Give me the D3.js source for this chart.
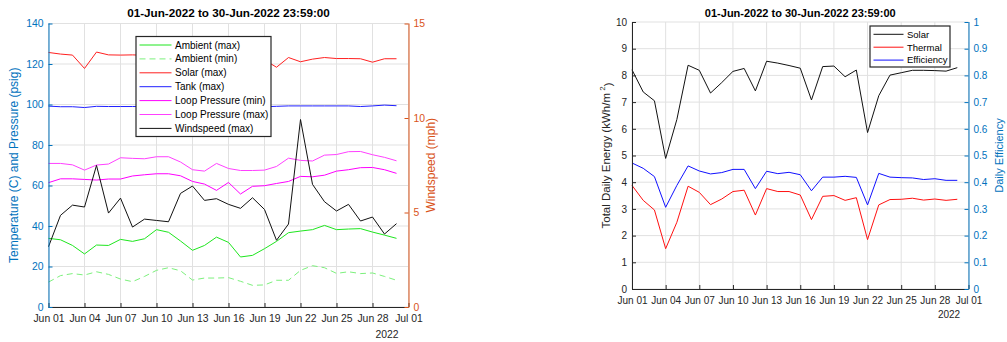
<!DOCTYPE html>
<html>
<head>
<meta charset="utf-8">
<script src="https://d3js.org/d3.v7.min.js"></script>
<style>
body { margin: 0; background: #fff; }
svg { display: block; font-family: "Liberation Sans", Arial, Helvetica, sans-serif; }
</style>
</head>
<body>
<svg width="1007" height="342"></svg>
<script>
/* SECTION: data */

var days = d3.utcDay.range(new Date(Date.UTC(2022, 5, 1)), new Date(Date.UTC(2022, 6, 1)));
var tickDates = ["2022-06-01", "2022-06-04", "2022-06-07", "2022-06-10", "2022-06-13", "2022-06-16",
                 "2022-06-19", "2022-06-22", "2022-06-25", "2022-06-28", "2022-07-01"];
var tickLabels = ["Jun 01", "Jun 04", "Jun 07", "Jun 10", "Jun 13", "Jun 16",
                  "Jun 19", "Jun 22", "Jun 25", "Jun 28", "Jul 01"];
var titleText = "01-Jun-2022 to 30-Jun-2022 23:59:00";

// left figure: temperatures and pressures (psig), windspeed (mph)
var ambientMax = [33.9, 33.2, 30.4, 26.2, 30.6, 30.4, 33.4, 32.4, 33.7, 38.2, 36.9, 32.6, 28.0, 30.4, 34.5,
                  31.9, 24.7, 25.5, 28.8, 32.4, 36.7, 37.5, 38.2, 40.3, 38.2, 38.5, 38.7, 37.0, 35.5, 33.9];
var ambientMin = [12.3, 15.5, 16.5, 15.8, 17.4, 16.1, 13.8, 12.5, 15.1, 18.1, 19.4, 17.9, 13.3, 14.3, 14.3,
                  14.5, 12.7, 10.7, 10.9, 13.2, 13.2, 18.1, 20.4, 19.4, 16.6, 17.4, 16.5, 16.8, 15.1, 13.2];
var solarMax = [125.7, 124.9, 124.4, 117.8, 125.9, 124.5, 124.4, 124.5, 124.3, 124.0, 123.6, 123.2, 123.8, 124.0, 123.5,
                123.0, 122.8, 123.2, 122.0, 118.4, 123.2, 121.1, 122.4, 123.2, 122.7, 122.7, 122.6, 120.9, 122.6, 122.6];
var tankMax = [99.2, 98.9, 98.9, 98.5, 99.1, 99.0, 99.0, 99.0, 99.0, 99.0, 99.0, 99.0, 99.0, 99.0, 99.0,
               99.0, 99.0, 98.9, 98.9, 99.1, 99.3, 99.3, 99.3, 99.3, 99.3, 99.3, 99.0, 99.3, 99.7, 99.4];
var loopMin = [61.4, 63.3, 63.3, 63.0, 62.7, 63.2, 63.2, 64.7, 65.3, 65.8, 65.8, 64.8, 62.0, 60.7, 57.6,
               61.5, 55.8, 59.6, 59.9, 61.0, 62.0, 64.5, 64.3, 65.1, 67.1, 67.8, 68.8, 68.9, 67.8, 66.0];
var loopMax = [70.9, 70.9, 70.2, 67.6, 70.1, 70.6, 73.7, 73.4, 73.2, 74.2, 74.2, 71.6, 67.8, 67.1, 70.9,
               68.4, 67.4, 67.4, 67.6, 69.4, 73.5, 72.4, 72.1, 75.0, 75.3, 76.7, 76.8, 75.2, 73.9, 72.2];
var windMax = [3.19, 4.85, 5.39, 5.29, 7.49, 4.97, 5.76, 4.23, 4.65, 4.58, 4.51, 6.01, 6.40, 5.64, 5.73,
               5.43, 5.22, 5.78, 5.16, 3.53, 4.39, 9.92, 6.49, 5.57, 5.08, 5.43, 4.55, 4.76, 3.86, 4.41];

// right figure: total daily energy (kWh/m2) and efficiency
var solarEnergy = [8.21, 7.38, 7.05, 4.89, 6.35, 8.38, 8.19, 7.34, 7.73, 8.15, 8.26, 7.42, 8.53, 8.46, 8.37,
                   8.27, 7.08, 8.33, 8.35, 7.95, 8.20, 5.86, 7.24, 8.01, 8.10, 8.19, 8.19, 8.18, 8.16, 8.29];
var thermalEnergy = [3.88, 3.32, 2.96, 1.51, 2.50, 3.85, 3.62, 3.16, 3.37, 3.65, 3.70, 2.77, 3.76, 3.65, 3.65,
                     3.52, 2.60, 3.47, 3.50, 3.32, 3.42, 1.85, 3.15, 3.35, 3.36, 3.40, 3.33, 3.37, 3.32, 3.36];
var efficiency = [0.472, 0.452, 0.421, 0.306, 0.388, 0.461, 0.442, 0.431, 0.436, 0.448, 0.448, 0.376, 0.441, 0.432, 0.437,
                  0.428, 0.368, 0.419, 0.419, 0.422, 0.418, 0.315, 0.433, 0.419, 0.417, 0.416, 0.410, 0.413, 0.407, 0.407];

var leftTicks = [0, 20, 40, 60, 80, 100, 120, 140];
var windTicks = [0, 5, 10, 15];
var energyTicks = [0, 1, 2, 3, 4, 5, 6, 7, 8, 9, 10];
var effTicks = [0, 0.1, 0.2, 0.3, 0.4, 0.5, 0.6, 0.7, 0.8, 0.9, 1];

/* SECTION: drawing */

var svg = d3.select("svg");
var parse = d3.utcParse("%Y-%m-%d");
var ink = "#262626";
var gridColor = "#e1e1e1";

function drawPanel(p) {
  var g = svg.append("g");
  var x = d3.scaleUtc().domain([parse(tickDates[0]), parse(tickDates[tickDates.length - 1])]).range([p.left, p.right]);
  var yL = d3.scaleLinear().domain(p.leftDomain).range([p.bottom, p.top]);
  var yR = d3.scaleLinear().domain(p.rightDomain).range([p.bottom, p.top]);

  // grid
  g.append("g").selectAll("line").data(tickDates).enter().append("line")
      .attr("x1", function(d) { return x(parse(d)); })
      .attr("x2", function(d) { return x(parse(d)); })
      .attr("y1", p.top).attr("y2", p.bottom)
      .attr("stroke", gridColor).attr("stroke-width", 1);
  g.append("g").selectAll("line").data(p.leftTicks).enter().append("line")
      .attr("x1", p.left).attr("x2", p.right)
      .attr("y1", function(d) { return yL(d); })
      .attr("y2", function(d) { return yL(d); })
      .attr("stroke", gridColor).attr("stroke-width", 1);

  // series
  var line = d3.line();
  p.series.forEach(function(s) {
    var y = s.axis == "right" ? yR : yL;
    g.append("path")
        .attr("d", line.x(function(d, i) { return x(days[i]); }).y(function(d) { return y(d); })(s.values))
        .attr("fill", "none")
        .attr("stroke", s.color)
        .attr("stroke-width", 1)
        .attr("stroke-dasharray", s.dash || null)
        .attr("stroke-linejoin", "round");
  });

  // bottom axis
  var xAxis = d3.axisBottom(x).tickValues(tickDates.map(parse)).tickSize(-4).tickPadding(8)
      .tickFormat(function(d, i) { return tickLabels[i]; });
  var ax = g.append("g").attr("transform", "translate(0," + p.bottom + ")").call(xAxis);
  ax.select(".domain").attr("stroke", ink).attr("d", "M" + p.left + ",0.5H" + p.right);
  ax.selectAll(".tick line").attr("stroke", ink);
  ax.selectAll("text").attr("fill", ink).attr("font-size", p.font).attr("font-family", null);
  g.append("text").attr("x", p.yearX).attr("y", p.bottom + p.yearDy)
      .attr("text-anchor", "middle").attr("font-size", p.font).attr("fill", ink).text("2022");

  // left axis
  var la = g.append("g").attr("transform", "translate(" + p.left + ",0)")
      .call(d3.axisLeft(yL).tickValues(p.leftTicks).tickSize(-4).tickPadding(5).tickFormat(p.leftFormat));
  la.select(".domain").attr("stroke", p.leftColor).attr("d", "M0.5," + p.top + "V" + (p.bottom + 0.5));
  la.selectAll(".tick line").attr("stroke", p.leftColor);
  la.selectAll("text").attr("fill", p.leftColor).attr("font-size", p.font).attr("font-family", null);

  // right axis
  var ra = g.append("g").attr("transform", "translate(" + p.right + ",0)")
      .call(d3.axisRight(yR).tickValues(p.rightTicks).tickSize(-4).tickPadding(5).tickFormat(p.rightFormat));
  ra.select(".domain").attr("stroke", p.rightColor).attr("d", "M0.5," + p.top + "V" + (p.bottom + 0.5));
  ra.selectAll(".tick line").attr("stroke", p.rightColor);
  ra.selectAll("text").attr("fill", p.rightColor).attr("font-size", p.font).attr("font-family", null);

  // title and axis labels (x given at the text baseline, text reads upward)
  g.append("text").attr("x", (p.left + p.right) / 2).attr("y", 17)
      .attr("text-anchor", "middle").attr("font-weight", "bold").attr("font-size", p.titleFont).attr("fill", "#000")
      .text(titleText);
  var mid = (p.top + p.bottom) / 2;
  var lt = g.append("text").attr("transform", "translate(" + p.leftLabelX + "," + mid + ") rotate(-90)")
      .attr("text-anchor", "middle").attr("font-size", p.leftLabelFont).attr("fill", p.leftColor);
  p.leftLabel(lt);
  g.append("text").attr("transform", "translate(" + p.rightLabelX + "," + mid + ") rotate(-90)")
      .attr("text-anchor", "middle").attr("font-size", p.rightLabelFont).attr("fill", p.rightColor)
      .text(p.rightLabel);

  // legend
  var lg = g.append("g").attr("transform", "translate(" + p.legend.x + "," + p.legend.y + ")");
  lg.append("rect").attr("x", 0.5).attr("y", 0.5).attr("width", p.legend.w).attr("height", p.legend.h)
      .attr("fill", "#fff").attr("stroke", ink).attr("stroke-width", 1.2);
  var rows = lg.selectAll("g.row").data(p.series).enter().append("g")
      .attr("transform", function(d, i) { return "translate(0," + (p.legend.first + i * p.legend.step) + ")"; });
  rows.append("line").attr("x1", 4).attr("x2", p.legend.sample)
      .attr("y1", 0).attr("y2", 0)
      .attr("stroke", function(d) { return d.color; })
      .attr("stroke-dasharray", function(d) { return d.dash || null; });
  rows.append("text").attr("x", p.legend.sample + 3.5).attr("y", 0).attr("dy", "0.35em")
      .attr("font-size", p.legend.font).attr("fill", "#000")
      .text(function(d) { return d.name; });
}

drawPanel({
  left: 48.5, right: 408.5, top: 23.5, bottom: 307,
  leftDomain: [0, 140], rightDomain: [0, 15],
  leftTicks: leftTicks, rightTicks: windTicks,
  leftFormat: d3.format("d"), rightFormat: d3.format("d"),
  leftColor: "#0072BD", rightColor: "#D95319",
  font: 10.4, titleFont: 11.7, leftLabelFont: 12, rightLabelFont: 12,
  yearX: 387, yearDy: 31,
  leftLabelX: 18, rightLabelX: 435,
  leftLabel: function(t) { t.text("Temperature (C) and Pressure (psig)"); },
  rightLabel: "Windspeed (mph)",
  legend: { x: 135.5, y: 36, w: 135, h: 100, first: 9, step: 13.9, sample: 36, font: 10 },
  series: [
    { name: "Ambient (max)", values: ambientMax, color: "#1ee61e" },
    { name: "Ambient (min)", values: ambientMin, color: "#7cf07c", dash: "6,4" },
    { name: "Solar (max)", values: solarMax, color: "#ff2020" },
    { name: "Tank (max)", values: tankMax, color: "#2020ff" },
    { name: "Loop Pressure (min)", values: loopMin, color: "#ff00ff" },
    { name: "Loop Pressure (max)", values: loopMax, color: "#ff40ff" },
    { name: "Windspeed (max)", values: windMax, color: "#111", axis: "right" }
  ]
});

drawPanel({
  left: 632, right: 968.5, top: 22, bottom: 289,
  leftDomain: [0, 10], rightDomain: [0, 1],
  leftTicks: energyTicks, rightTicks: effTicks,
  leftFormat: d3.format("d"), rightFormat: function(d) { return d == 0 || d == 1 ? d3.format("d")(d) : d3.format(".1f")(d); },
  leftColor: ink, rightColor: "#0072BD",
  font: 10, titleFont: 11, leftLabelFont: 11.5, rightLabelFont: 11,
  yearX: 949, yearDy: 29,
  leftLabelX: 610, rightLabelX: 1003,
  leftLabel: function(t) {
    t.append("tspan").text("Total Daily Energy (kWh/m");
    t.append("tspan").attr("font-size", 8).attr("dy", "-0.6em").text(" 2");
    t.append("tspan").attr("dy", "0.6em").text(")");
  },
  rightLabel: "Daily Efficiency",
  legend: { x: 869.5, y: 25.5, w: 80, h: 41, first: 8.8, step: 12.9, sample: 34, font: 9.5 },
  series: [
    { name: "Solar", values: solarEnergy, color: "#111" },
    { name: "Thermal", values: thermalEnergy, color: "#ff1010" },
    { name: "Efficiency", values: efficiency, color: "#1010ff", axis: "right" }
  ]
});
</script>
</body>
</html>
